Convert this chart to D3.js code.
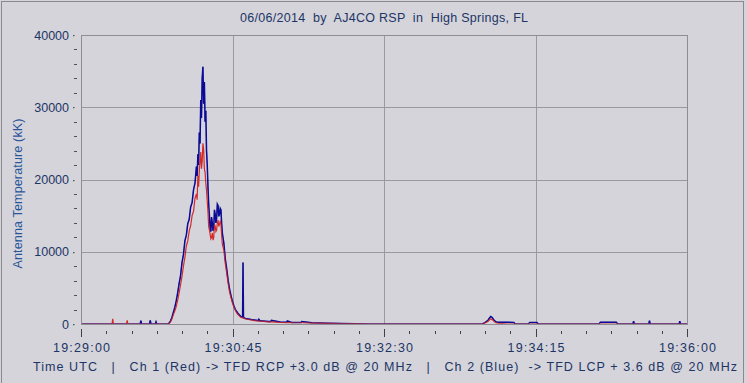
<!DOCTYPE html>
<html>
<head>
<meta charset="utf-8">
<script src="https://cdn.jsdelivr.net/npm/d3@7"></script>
<style>
  body { margin: 0; background: #d4d4da; }
  svg text { font-family: "Liberation Sans", Arial, sans-serif; }
</style>
</head>
<body>
<svg id="chart" width="747" height="383"></svg>
<script>
// time axis, seconds after 19:29:00 UTC
var xTickSeconds = [0, 105, 210, 315, 420];
var xTickLabels = ['19:29:00', '19:30:45', '19:32:30', '19:34:15', '19:36:00'];
var yTicks = [0, 10000, 20000, 30000, 40000];

// samples (s after 19:29:00, antenna temperature in kK)
var seconds = [0, 21.5, 22, 22.5, 31.5, 32, 32.5, 41, 41.5, 42, 47.5, 48, 48.5, 51.5, 52, 52.5,
	60, 61, 62, 63, 64, 65, 66, 67, 68, 69, 70, 71, 72, 73, 74, 75, 76, 77, 78, 79,
	80, 80.5, 81, 81.5, 82, 82.5, 83, 83.5, 84, 84.5, 85, 85.5, 86, 86.5, 87, 87.5, 88, 88.5, 89, 89.5,
	90, 90.5, 91, 91.5, 92, 92.5, 93, 93.5, 94, 94.5, 95, 95.5, 96, 96.5, 97, 97.5, 98, 99,
	100, 101, 102, 103, 104, 105, 106, 107, 108, 109, 110, 111, 112, 112.3, 112.6, 113, 114,
	116, 118, 120, 123, 123.3, 124, 130, 131.5, 132, 138, 142.5, 143, 146, 152.5, 153, 160, 170, 180, 190, 200,
	278, 280, 282, 283, 284, 285, 286, 287, 288, 289, 292, 296, 300, 301,
	310, 311, 316, 317, 359, 360, 371, 372, 382.5, 383, 383.5, 393.5, 394, 394.5, 414.5, 415, 415.5, 420];
var ch1Red = [0, 0, 700, 0, 0, 500, 0, 0, 0, 0, 0, 0, 0, 0, 0, 0,
	0, 50, 300, 700, 1300, 1800, 2400, 3300, 4300, 5400, 6600, 8000, 9200, 10800, 11500, 12900, 13600, 15000, 15600, 17400,
	18000, 17200, 20500, 19000, 21200, 22500, 23800, 21500, 22500, 25000, 24200, 21500, 21000, 19500, 18500, 17000, 15500, 13500, 13000, 12400,
	11800, 12000, 12600, 11600, 12000, 13800, 13500, 12800, 13000, 14000, 14400, 13500, 13800, 14200, 13900, 12200, 11000, 10200,
	8400, 7000, 5600, 4400, 3600, 2900, 2300, 1900, 1500, 1250, 1050, 900, 850, 850, 850, 750, 700,
	620, 560, 480, 420, 420, 400, 300, 300, 300, 220, 200, 200, 180, 170, 170, 120, 90, 60, 40, 0,
	0, 150, 350, 550, 700, 600, 400, 250, 150, 100, 50, 0, 0, 0,
	0, 0, 0, 0, 0, 0, 0, 0, 0, 0, 0, 0, 0, 0, 0, 0, 0, 0];
var ch2Blue = [0, 0, 0, 0, 0, 0, 0, 0, 450, 0, 0, 500, 0, 0, 300, 0,
	0, 100, 400, 900, 1600, 2300, 3200, 4300, 5600, 6700, 8500, 9600, 11500, 12300, 13900, 14500, 16200, 16800, 18600, 19500,
	21800, 20500, 23500, 22000, 26500, 25000, 31000, 28500, 34000, 35600, 30500, 33500, 28000, 29500, 24000, 22000, 19000, 16500, 15000, 13200,
	12800, 14800, 14000, 12900, 13300, 15800, 15200, 14000, 14600, 16600, 16400, 14900, 15200, 16000, 15800, 13800, 12500, 11200,
	9000, 7600, 6000, 4800, 3900, 3100, 2500, 2000, 1700, 1400, 1200, 1000, 950, 8500, 1000, 850, 780,
	700, 620, 560, 470, 650, 450, 350, 350, 500, 280, 240, 420, 220, 200, 350, 160, 120, 80, 50, 0,
	0, 200, 500, 800, 1050, 900, 600, 400, 250, 250, 250, 250, 200, 0,
	0, 200, 200, 0, 0, 250, 250, 0, 0, 400, 0, 0, 450, 0, 0, 400, 0, 0];

var svg = d3.select('#chart');
var W = 747, H = 383;
var pLeft = 81, pRight = 687, pTop = 35, pBottom = 324;
var textColor = '#1d3566';

svg.append('rect').attr('x', 1.5).attr('y', 1.5).attr('width', W - 5).attr('height', H + 5)
	.style('fill', '#d4d4da').style('stroke', '#8a8a8e');

var x = d3.scaleLinear().domain([0, 420]).range([pLeft, pRight]);
var y = d3.scaleLinear().domain([0, 40000]).range([pBottom, pTop]);

// grid
var grid = svg.append('g').attr('class', 'grid');
grid.selectAll('line.v').data(xTickSeconds.slice(1, -1)).enter().append('line')
	.attr('x1', function (d) { return Math.round(x(d)) + 0.5; })
	.attr('x2', function (d) { return Math.round(x(d)) + 0.5; })
	.attr('y1', pTop).attr('y2', pBottom)
	.style('stroke', '#9a9a9e');
grid.selectAll('line.h').data(yTicks.slice(1, -1)).enter().append('line')
	.attr('x1', pLeft).attr('x2', pRight)
	.attr('y1', function (d) { return Math.round(y(d)) + 0.5; })
	.attr('y2', function (d) { return Math.round(y(d)) + 0.5; })
	.style('stroke', '#9a9a9e');

// frame
svg.append('rect').attr('x', pLeft + 0.5).attr('y', pTop + 0.5)
	.attr('width', pRight - pLeft).attr('height', pBottom - pTop)
	.style('fill', 'none').style('stroke', '#8e8e92');

// data
svg.append('clipPath').attr('id', 'plotclip').append('rect')
	.attr('x', pLeft + 1).attr('y', pTop).attr('width', pRight - pLeft - 1).attr('height', pBottom - pTop - 0.2);

var line = function (vals) {
	return d3.line()
		.x(function (d, i) { return x(seconds[i]); })
		.y(function (d) { return y(d); })(vals);
};
var plot = svg.append('g').attr('clip-path', 'url(#plotclip)');
plot.append('path').attr('d', line(ch2Blue))
	.style('fill', 'none').style('stroke', '#0c0c96').style('stroke-width', 1.5);
plot.append('path').attr('d', line(ch1Red))
	.style('fill', 'none').style('stroke', '#d42a2a').style('stroke-width', 1.2);
// blue drawn again thin so it sits over red like the reference
plot.append('path').attr('d', line(ch2Blue))
	.style('fill', 'none').style('stroke', '#0c0c96').style('stroke-width', 0.6).style('opacity', 0.6);

// y axis
var yAxis = d3.axisLeft(y).tickValues(yTicks).tickSize(0).tickPadding(0)
	.tickFormat(function (d) { return String(d); });
var yg = svg.append('g').attr('transform', 'translate(69,0)').call(yAxis);
yg.select('.domain').remove();
yg.selectAll('text').style('font-size', '12.5px').style('fill', textColor)
	.style('font-family', '"Liberation Sans", Arial, sans-serif');

var yMinor = d3.range(0, 40001, 2000).filter(function (d) { return d % 10000 !== 0; });
svg.selectAll('line.ymin').data(yMinor).enter().append('line')
	.attr('x1', 74).attr('x2', 77)
	.attr('y1', function (d) { return Math.round(y(d)) + 0.5; })
	.attr('y2', function (d) { return Math.round(y(d)) + 0.5; })
	.style('stroke', '#505058');
svg.selectAll('rect.ymaj').data(yTicks).enter().append('rect')
	.attr('x', 73).attr('y', function (d) { return Math.round(y(d)); })
	.attr('width', 1.5).attr('height', 1.2).style('fill', '#505058');

svg.append('text')
	.attr('transform', 'translate(22,' + ((pTop + pBottom) / 2 + 14) + ') rotate(-90)')
	.attr('text-anchor', 'middle')
	.style('font-size', '12.5px').style('fill', '#2a549a')
	.attr('textLength', 150).attr('lengthAdjust', 'spacing')
	.text('Antenna Temperature (kK)');

// x axis
var xMinor = d3.range(0, 421, 17.5).filter(function (d) { return d % 105 !== 0; });
svg.selectAll('line.xmin').data(xMinor).enter().append('line')
	.attr('x1', function (d) { return Math.round(x(d)) + 0.5; })
	.attr('x2', function (d) { return Math.round(x(d)) + 0.5; })
	.attr('y1', 331).attr('y2', 334)
	.style('stroke', '#404048');
var xAxis = d3.axisBottom(x).tickValues(xTickSeconds).tickSize(0).tickPadding(0)
	.tickFormat(function (d, i) { return xTickLabels[i]; });
var xg = svg.append('g').attr('transform', 'translate(0,343)').call(xAxis);
xg.select('.domain').remove();
xg.selectAll('text').style('font-size', '12.5px').style('fill', textColor)
	.style('font-family', '"Liberation Sans", Arial, sans-serif')
	.attr('textLength', 57).attr('lengthAdjust', 'spacing');
svg.selectAll('line.xmaj').data(xTickSeconds).enter().append('line')
	.attr('x1', function (d) { return Math.round(x(d)) + 0.5; })
	.attr('x2', function (d) { return Math.round(x(d)) + 0.5; })
	.attr('y1', 329).attr('y2', 337)
	.style('stroke', '#404048');

// title and caption
svg.append('text').attr('x', 384).attr('y', 22).attr('text-anchor', 'middle')
	.style('font-size', '12.5px').style('fill', textColor).style('white-space', 'pre')
	.attr('textLength', 288).attr('lengthAdjust', 'spacing')
	.text('06/06/2014  by  AJ4CO RSP  in  High Springs, FL');

svg.append('text').attr('x', 33).attr('y', 371)
	.style('font-size', '12.5px').style('fill', textColor).style('white-space', 'pre')
	.attr('textLength', 704).attr('lengthAdjust', 'spacing')
	.text('Time UTC   |   Ch 1 (Red) -> TFD RCP +3.0 dB @ 20 MHz   |   Ch 2 (Blue)  -> TFD LCP + 3.6 dB @ 20 MHz');
</script>
</body>
</html>
